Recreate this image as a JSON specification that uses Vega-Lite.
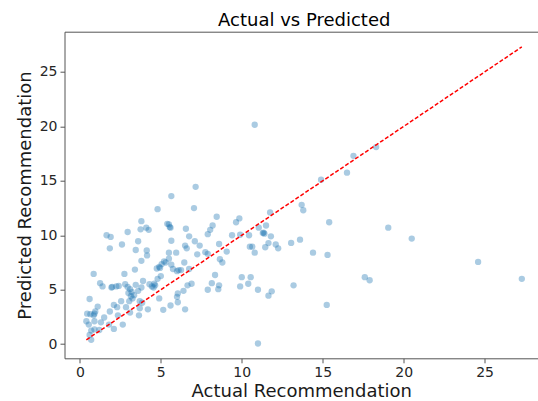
{
  "$schema": "https://vega.github.io/schema/vega-lite/v6.json",
  "width": 473.5,
  "height": 326.6,
  "autosize": "none",
  "padding": {"left": 64.5, "top": 31.7, "right": 0, "bottom": 42.7},
  "background": "white",
  "config": {
    "view": {"stroke": null},
    "font": "DejaVu Sans",
    "axis": {
      "domainColor": "#555555",
      "domainWidth": 1,
      "tickColor": "#555555",
      "tickSize": 4.5,
      "tickWidth": 1,
      "labelFont": "DejaVu Sans",
      "labelFontSize": 14,
      "labelColor": "#262626",
      "labelPadding": 3,
      "titleFont": "DejaVu Sans",
      "titleFontSize": 18,
      "titleFontWeight": "normal",
      "titleColor": "#1a1a1a",
      "grid": false
    }
  },
  "title": {
    "text": "Actual vs Predicted",
    "font": "DejaVu Sans",
    "fontSize": 18,
    "fontWeight": "normal",
    "color": "#000000",
    "anchor": "middle",
    "offset": 2,
    "dx": 3
  },
  "datasets": {
    "points": [
      {"actual": 10.8, "predicted": 20.15}, {"actual": 16.9, "predicted": 17.3}, {"actual": 18.3, "predicted": 18.1},
      {"actual": 16.5, "predicted": 15.75}, {"actual": 14.9, "predicted": 15.1}, {"actual": 13.7, "predicted": 12.8},
      {"actual": 13.8, "predicted": 12.3}, {"actual": 15.4, "predicted": 11.2}, {"actual": 19.05, "predicted": 10.7},
      {"actual": 20.5, "predicted": 9.7}, {"actual": 24.6, "predicted": 7.55}, {"actual": 27.3, "predicted": 6.0},
      {"actual": 17.6, "predicted": 6.15}, {"actual": 17.9, "predicted": 5.87}, {"actual": 15.25, "predicted": 3.6},
      {"actual": 15.3, "predicted": 8.2}, {"actual": 14.4, "predicted": 8.4}, {"actual": 13.6, "predicted": 9.6},
      {"actual": 13.05, "predicted": 9.3}, {"actual": 13.2, "predicted": 5.4}, {"actual": 11.0, "predicted": 0.06},
      {"actual": 11.0, "predicted": 5.0}, {"actual": 11.85, "predicted": 4.85}, {"actual": 11.65, "predicted": 4.45},
      {"actual": 10.4, "predicted": 5.55}, {"actual": 10.55, "predicted": 6.15}, {"actual": 9.9, "predicted": 5.3},
      {"actual": 10.0, "predicted": 6.15}, {"actual": 11.75, "predicted": 12.1}, {"actual": 11.5, "predicted": 10.9},
      {"actual": 11.05, "predicted": 10.7}, {"actual": 11.3, "predicted": 10.2}, {"actual": 11.4, "predicted": 10.15},
      {"actual": 11.8, "predicted": 9.9}, {"actual": 12.1, "predicted": 9.15}, {"actual": 12.25, "predicted": 8.8},
      {"actual": 11.45, "predicted": 8.9}, {"actual": 11.65, "predicted": 9.28}, {"actual": 10.8, "predicted": 8.4},
      {"actual": 10.65, "predicted": 8.95}, {"actual": 10.5, "predicted": 8.95}, {"actual": 10.45, "predicted": 10.0},
      {"actual": 9.9, "predicted": 10.05}, {"actual": 9.4, "predicted": 10.0}, {"actual": 9.85, "predicted": 11.55},
      {"actual": 9.65, "predicted": 11.2}, {"actual": 9.07, "predicted": 8.5}, {"actual": 8.8, "predicted": 7.5},
      {"actual": 8.65, "predicted": 7.8}, {"actual": 8.6, "predicted": 9.2}, {"actual": 8.45, "predicted": 11.7},
      {"actual": 8.2, "predicted": 10.9}, {"actual": 8.05, "predicted": 10.5}, {"actual": 7.9, "predicted": 10.1},
      {"actual": 7.75, "predicted": 8.45}, {"actual": 7.9, "predicted": 8.3}, {"actual": 8.15, "predicted": 5.6},
      {"actual": 8.6, "predicted": 5.4}, {"actual": 8.55, "predicted": 5.05}, {"actual": 7.9, "predicted": 5.0},
      {"actual": 8.35, "predicted": 6.35}, {"actual": 7.15, "predicted": 14.45}, {"actual": 7.05, "predicted": 12.5},
      {"actual": 7.1, "predicted": 9.45}, {"actual": 7.4, "predicted": 9.05}, {"actual": 7.25, "predicted": 8.25},
      {"actual": 6.75, "predicted": 9.9}, {"actual": 6.55, "predicted": 10.6}, {"actual": 6.5, "predicted": 9.05},
      {"actual": 6.6, "predicted": 8.8}, {"actual": 6.9, "predicted": 5.55}, {"actual": 6.65, "predicted": 5.4},
      {"actual": 6.4, "predicted": 4.9}, {"actual": 6.5, "predicted": 3.2}, {"actual": 6.45, "predicted": 7.5},
      {"actual": 6.75, "predicted": 6.9}, {"actual": 6.25, "predicted": 6.8}, {"actual": 6.1, "predicted": 6.8},
      {"actual": 5.95, "predicted": 8.4}, {"actual": 5.65, "predicted": 13.6}, {"actual": 4.8, "predicted": 12.4},
      {"actual": 5.4, "predicted": 11.05}, {"actual": 5.55, "predicted": 10.75}, {"actual": 5.6, "predicted": 10.7},
      {"actual": 5.65, "predicted": 9.5}, {"actual": 5.5, "predicted": 8.4}, {"actual": 5.5, "predicted": 7.85},
      {"actual": 5.3, "predicted": 7.5}, {"actual": 5.05, "predicted": 7.35}, {"actual": 4.9, "predicted": 7.1},
      {"actual": 4.75, "predicted": 6.95}, {"actual": 5.65, "predicted": 7.3}, {"actual": 5.75, "predicted": 6.9},
      {"actual": 6.05, "predicted": 4.65}, {"actual": 6.0, "predicted": 4.35}, {"actual": 6.05, "predicted": 3.85},
      {"actual": 5.6, "predicted": 3.55}, {"actual": 5.15, "predicted": 3.15}, {"actual": 4.9, "predicted": 4.2},
      {"actual": 5.0, "predicted": 6.25}, {"actual": 4.8, "predicted": 6.0}, {"actual": 4.65, "predicted": 5.4},
      {"actual": 4.55, "predicted": 5.2}, {"actual": 4.6, "predicted": 5.55}, {"actual": 4.25, "predicted": 10.5},
      {"actual": 4.1, "predicted": 10.7}, {"actual": 3.8, "predicted": 11.3}, {"actual": 3.75, "predicted": 10.55},
      {"actual": 4.15, "predicted": 8.15}, {"actual": 4.13, "predicted": 8.6}, {"actual": 3.8, "predicted": 7.65},
      {"actual": 3.45, "predicted": 8.65}, {"actual": 3.6, "predicted": 9.45}, {"actual": 3.4, "predicted": 6.85},
      {"actual": 2.95, "predicted": 10.3}, {"actual": 2.6, "predicted": 9.15}, {"actual": 2.75, "predicted": 6.45},
      {"actual": 1.9, "predicted": 9.85}, {"actual": 1.65, "predicted": 10.0}, {"actual": 1.85, "predicted": 8.8},
      {"actual": 0.85, "predicted": 6.45}, {"actual": 1.25, "predicted": 5.6}, {"actual": 1.4, "predicted": 5.3},
      {"actual": 1.95, "predicted": 5.2}, {"actual": 2.25, "predicted": 5.3}, {"actual": 2.4, "predicted": 5.35},
      {"actual": 2.8, "predicted": 5.5}, {"actual": 2.95, "predicted": 5.25}, {"actual": 3.1, "predicted": 5.05},
      {"actual": 3.2, "predicted": 4.8}, {"actual": 3.15, "predicted": 4.4}, {"actual": 3.35, "predicted": 4.5},
      {"actual": 3.45, "predicted": 5.45}, {"actual": 3.6, "predicted": 4.9}, {"actual": 3.8, "predicted": 5.2},
      {"actual": 3.9, "predicted": 5.8}, {"actual": 3.7, "predicted": 3.95}, {"actual": 3.85, "predicted": 3.8},
      {"actual": 3.7, "predicted": 3.3}, {"actual": 3.65, "predicted": 2.65}, {"actual": 4.2, "predicted": 3.2},
      {"actual": 3.05, "predicted": 3.95}, {"actual": 2.85, "predicted": 3.4}, {"actual": 3.1, "predicted": 2.9},
      {"actual": 2.55, "predicted": 3.95}, {"actual": 2.1, "predicted": 3.6}, {"actual": 2.3, "predicted": 3.4},
      {"actual": 2.35, "predicted": 2.65}, {"actual": 1.85, "predicted": 3.0}, {"actual": 2.65, "predicted": 1.8},
      {"actual": 2.1, "predicted": 1.4}, {"actual": 1.8, "predicted": 1.8}, {"actual": 1.5, "predicted": 2.45},
      {"actual": 1.3, "predicted": 2.0}, {"actual": 1.1, "predicted": 3.45}, {"actual": 0.95, "predicted": 3.0},
      {"actual": 0.6, "predicted": 4.15}, {"actual": 0.45, "predicted": 2.8}, {"actual": 0.65, "predicted": 2.75},
      {"actual": 0.85, "predicted": 2.65}, {"actual": 0.9, "predicted": 2.8}, {"actual": 0.4, "predicted": 2.1},
      {"actual": 0.9, "predicted": 2.1}, {"actual": 0.7, "predicted": 1.25}, {"actual": 1.2, "predicted": 1.3},
      {"actual": 0.9, "predicted": 1.35}, {"actual": 0.6, "predicted": 0.85}, {"actual": 0.7, "predicted": 0.4},
      {"actual": 5.5, "predicted": 11.0}, {"actual": 11.35, "predicted": 10.25}, {"actual": 4.3, "predicted": 5.5},
      {"actual": 4.45, "predicted": 5.3}, {"actual": 3.0, "predicted": 4.7}, {"actual": 3.25, "predicted": 4.2},
      {"actual": 2.0, "predicted": 5.25}, {"actual": 4.95, "predicted": 7.0}, {"actual": 5.2, "predicted": 7.6},
      {"actual": 6.0, "predicted": 6.7}, {"actual": 0.55, "predicted": 1.8}
    ],
    "diag": [
      {"actual": 0.4, "predicted": 0.4},
      {"actual": 27.3, "predicted": 27.3}
    ]
  },
  "layer": [
    {
      "data": {"name": "points"},
      "mark": {"type": "circle", "size": 40, "color": "#1f77b4", "opacity": 0.38},
      "encoding": {
        "x": {
          "field": "actual", "type": "quantitative",
          "scale": {"domain": [-0.95, 28.3], "nice": false, "zero": false},
          "axis": {"orient": "bottom", "values": [0, 5, 10, 15, 20, 25], "title": "Actual Recommendation", "titlePadding": 3}
        },
        "y": {
          "field": "predicted", "type": "quantitative",
          "scale": {"domain": [-1.3, 28.7], "nice": false, "zero": false},
          "axis": {"orient": "left", "values": [0, 5, 10, 15, 20, 25], "title": "Predicted Recommendation", "titlePadding": 5}
        }
      }
    },
    {
      "data": {"name": "diag"},
      "mark": {"type": "line", "color": "#ff0000", "strokeWidth": 1.5, "strokeDash": [4, 2]},
      "encoding": {
        "x": {
          "field": "actual", "type": "quantitative",
          "scale": {"domain": [-0.95, 28.3], "nice": false, "zero": false},
          "axis": {"orient": "top", "labels": false, "ticks": false, "title": null, "domain": true}
        },
        "y": {
          "field": "predicted", "type": "quantitative",
          "scale": {"domain": [-1.3, 28.7], "nice": false, "zero": false},
          "axis": null
        }
      }
    }
  ],
  "resolve": {"axis": {"x": "independent", "y": "independent"}}
}
